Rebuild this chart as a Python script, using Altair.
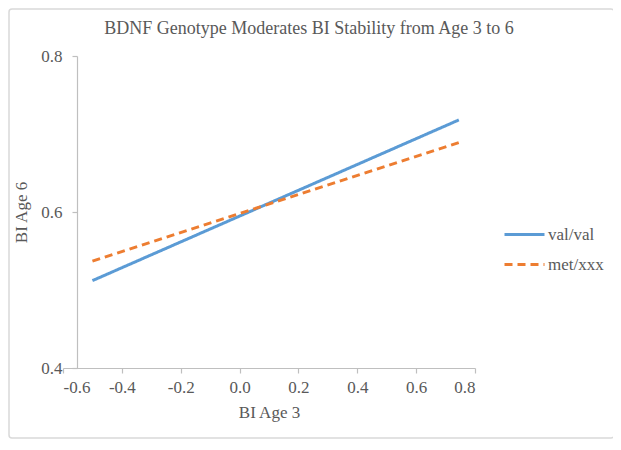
import altair as alt
import pandas as pd

# Data
series = ["val/val", "val/val", "met/xxx", "met/xxx"]
bi_age3 = [-0.5, 0.745, -0.5, 0.745]
bi_age6 = [0.512, 0.718, 0.537, 0.689]

df = pd.DataFrame({"Genotype": series, "BI Age 3": bi_age3, "BI Age 6": bi_age6})

x_ticks = [-0.6, -0.4, -0.2, 0.0, 0.2, 0.4, 0.6, 0.8]
y_ticks = [0.4, 0.6, 0.8]

FONT = "Liberation Serif"
GRAY = "#595959"
AXIS_GRAY = "#BFBFBF"
LABEL_EXPR = "replace(format(datum.value, '.1f'), '\u2212', '-')"

lines = alt.Chart(df).mark_line(strokeWidth=3).encode(
    x=alt.X("BI Age 3:Q",
            scale=alt.Scale(domain=[-0.6, 0.8], nice=False, zero=False),
            axis=alt.Axis(values=x_ticks, labelExpr=LABEL_EXPR, grid=False, title="BI Age 3",
                          labelFont=FONT, titleFont=FONT,
                          tickSize=5, labelPadding=6, titlePadding=9)),
    y=alt.Y("BI Age 6:Q",
            scale=alt.Scale(domain=[0.4, 0.8], nice=False, zero=False),
            axis=alt.Axis(values=y_ticks, labelExpr=LABEL_EXPR, grid=False, title="BI Age 6",
                          labelFont=FONT, titleFont=FONT,
                          offset=-14, tickSize=5, labelPadding=10, titlePadding=10)),
    color=alt.Color("Genotype:N",
                    scale=alt.Scale(domain=["val/val", "met/xxx"], range=["#5B9BD5", "#ED7D31"]),
                    legend=alt.Legend(title=None, orient="none", legendX=440, legendY=157,
                                      symbolType="stroke", symbolSize=1600,
                                      symbolStrokeWidth=3, labelFontSize=17,
                                      labelFont=FONT, labelColor=GRAY, rowPadding=-11,
                                      labelOffset=2)),
    strokeDash=alt.StrokeDash("Genotype:N",
                              scale=alt.Scale(domain=["val/val", "met/xxx"],
                                              range=[[1, 0], [8, 5]]),
                              legend=None),
    detail="Genotype:N",
)

border = alt.Chart(pd.DataFrame({"a": [0]})).mark_rect(
    fill=None, stroke="#D9D9D9", strokeWidth=1.5, cornerRadius=3
).encode(x=alt.value(-54), x2=alt.value(551), y=alt.value(-47), y2=alt.value(382))

chart = alt.layer(border, lines).properties(
    width=412, height=312,
    title=alt.Title("BDNF Genotype Moderates BI Stability from Age 3 to 6",
                    font=FONT, fontSize=18, fontWeight="normal", color=GRAY,
                    anchor="middle", frame="group", offset=-30, dx=40),
    autosize=alt.AutoSizeParams(type="none"),
    padding={"left": 55, "top": 48, "right": 138, "bottom": 74},
).configure(font=FONT).configure_view(stroke=None).configure_axis(
    labelFont=FONT, titleFont=FONT, labelFontSize=17, titleFontSize=17,
    labelColor=GRAY, titleColor=GRAY, titleFontWeight="normal",
    domainColor=AXIS_GRAY, tickColor=AXIS_GRAY, domainWidth=1.2, tickWidth=1.2,
).configure_legend(labelFont=FONT)

chart.save("out.html", embed_options={"renderer": "svg", "actions": False})
